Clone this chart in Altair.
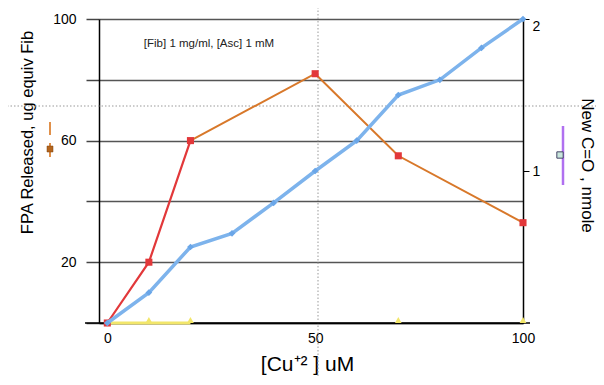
import altair as alt
import pandas as pd

# ---- data ----
cu_red = [0, 10, 20]
fpa_red = [0, 20, 60]

cu_orange = [20, 50, 70, 100]
fpa_orange = [60, 82, 55, 33]

cu_blue = [0, 10, 20, 30, 40, 50, 60, 70, 80, 90, 100]
co_blue = [0, 0.2, 0.5, 0.59, 0.79, 1.0, 1.2, 1.5, 1.6, 1.81, 2.0]

cu_yellow_line = [0, 10, 20]
cu_yellow_pts = [10, 20, 70, 100]

note_text = "[Fib] 1 mg/ml, [Asc] 1 mM"
x_title = "[Cu⁺² ] uM"
y_left_title = "FPA Released, ug equiv Fib"
y_right_title = "New C=O , nmole"

FONT = "Liberation Sans"

red_df = pd.DataFrame({"cu": cu_red, "v": fpa_red})
orange_df = pd.DataFrame({"cu": cu_orange, "v": fpa_orange})
orange_pts_df = orange_df[orange_df.cu > 20]
blue_df = pd.DataFrame({"cu": cu_blue, "co": co_blue})
yl_df = pd.DataFrame({"cu": cu_yellow_line, "v": [0] * len(cu_yellow_line)})
yp_df = pd.DataFrame({"cu": cu_yellow_pts, "v": [0] * len(cu_yellow_pts)})
dummy = pd.DataFrame({"a": [0]})

x_enc = alt.X(
    "cu:Q",
    scale=alt.Scale(domain=[-2, 100], nice=False, zero=False),
    axis=alt.Axis(
        values=[0, 50, 100], ticks=False, grid=False, domainColor="black",
        domainWidth=1.5, labelFontSize=14, labelPadding=8, labelFlush=False,
        title=x_title, titleFontSize=21, titleFontWeight="normal",
        titleX=208, titleY=47, titleAlign="center", titleBaseline="alphabetic",
    ),
)

y_left = alt.Y(
    "v:Q",
    scale=alt.Scale(domain=[0, 100], nice=False),
    axis=alt.Axis(
        values=[0, 20, 40, 60, 80, 100],
        labelExpr="datum.value==20||datum.value==60||datum.value==100 ? datum.label : ''",
        tickSize=13, tickColor="#444", tickWidth=1.5, labelPadding=10,
        labelFontSize=14, grid=True, gridColor="#555", gridWidth=1.5,
        domainColor="black", domainWidth=1.5,
        title=y_left_title, titleFontSize=16.5, titleFontWeight="normal",
        titleAngle=-90, titleX=-72, titleY=113, titleAlign="center",
        titleBaseline="middle",
    ),
)

y_right = alt.Y(
    "co:Q",
    scale=alt.Scale(domain=[0, 2], nice=False),
    axis=alt.Axis(
        orient="right", values=[1, 2], labelFlush=True, grid=False,
        tickSize=6, tickColor="black", labelPadding=3, labelFontSize=14,
        domainColor="black", domainWidth=1.5,
        title=y_right_title, titleFontSize=17, titleFontWeight="normal",
        titleAngle=90, titleX=63, titleY=146, titleAlign="center",
        titleBaseline="middle",
    ),
)

# decorations (guides, legend swatches)
vguide = alt.Chart(dummy).mark_rule(color="#999", strokeDash=[1.5, 2], strokeWidth=1).encode(
    x=alt.value(219), y=alt.value(-19), y2=alt.value(370))
hguide = alt.Chart(dummy).mark_rule(color="#999", strokeDash=[1.5, 2], strokeWidth=1).encode(
    y=alt.value(87), x=alt.value(-99), x2=alt.value(505))
xline = alt.Chart(dummy).mark_rule(color="black", strokeWidth=1.5).encode(
    y=alt.value(304), x=alt.value(-14), x2=alt.value(431))
leg1a = alt.Chart(dummy).mark_rule(color="#e0904a", strokeWidth=2).encode(
    x=alt.value(-49), y=alt.value(103), y2=alt.value(116))
leg1b = alt.Chart(dummy).mark_rule(color="#e0904a", strokeWidth=2).encode(
    x=alt.value(-49), y=alt.value(124), y2=alt.value(138))
leg1s = alt.Chart(dummy).mark_square(color="#b5651d", size=36, opacity=1, stroke="#7a4010", strokeWidth=0.5).encode(
    x=alt.value(-49), y=alt.value(130))
leg2a = alt.Chart(dummy).mark_rule(color="#b070f0", strokeWidth=2.5).encode(
    x=alt.value(464), y=alt.value(107), y2=alt.value(166))
leg2s = alt.Chart(dummy).mark_square(fill="#c8e6dc", size=40, opacity=1, stroke="#446", strokeWidth=1, filled=True).encode(
    x=alt.value(461), y=alt.value(136))
note = alt.Chart(dummy).mark_text(text=note_text, font=FONT, fontSize=11.5, align="center", baseline="middle", color="#222").encode(
    x=alt.value(110), y=alt.value(25))

red_line = alt.Chart(red_df).mark_line(color="#e2383a", strokeWidth=2.2).encode(x=x_enc, y=y_left)
red_pts = alt.Chart(red_df).mark_square(color="#e2383a", size=50, opacity=1).encode(x=x_enc, y=y_left)
orange_line = alt.Chart(orange_df).mark_line(color="#d8782a", strokeWidth=2).encode(x=x_enc, y=y_left)
orange_pts = alt.Chart(orange_pts_df).mark_square(color="#e2383a", size=50, opacity=1).encode(x=x_enc, y=y_left)
yel_line = alt.Chart(yl_df).mark_line(color="#f2e66a", strokeWidth=3).encode(x=x_enc, y=y_left)
yel_pts = alt.Chart(yp_df).mark_point(shape="triangle-up", filled=True, color="#f2e66a", size=45, opacity=1).encode(
    x=x_enc, y=y_left, yOffset=alt.value(-3))

left = alt.layer(vguide, hguide, xline, yel_line, yel_pts, red_line, orange_line, red_pts, orange_pts,
                 leg1a, leg1b, leg1s, leg2a, leg2s, note)

blue_line = alt.Chart(blue_df).mark_line(color="#7db3ec", strokeWidth=3.5).encode(x=x_enc, y=y_right)
blue_pts = alt.Chart(blue_df).mark_point(shape="diamond", filled=True, color="#6aa6e8", size=45, opacity=1).encode(x=x_enc, y=y_right)
right = alt.layer(blue_line, blue_pts)

chart = alt.layer(left, right).resolve_scale(y="independent").properties(
    width=424, height=304,
    autosize=alt.AutoSizeParams(type="none"),
    padding={"left": 91, "top": 11, "right": 73, "bottom": 54},
    background="white",
).configure_view(stroke=None).configure_axis(
    labelFont=FONT, titleFont=FONT, labelColor="black", titleColor="black"
)

chart.save("out.html", embed_options={"renderer": "svg", "actions": False})
